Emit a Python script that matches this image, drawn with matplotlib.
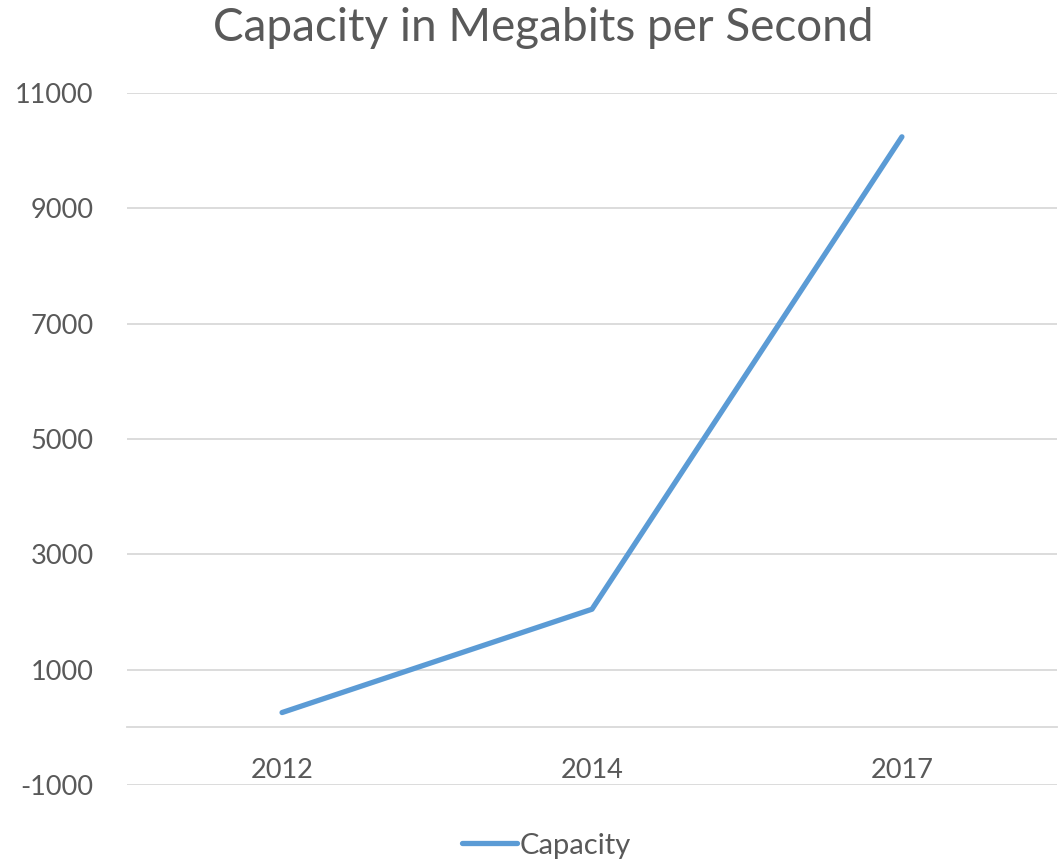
import matplotlib.pyplot as plt

years = ['2012', '2014', '2017']
capacity = [256, 2048, 10240]
y_ticks = [-1000, 1000, 3000, 5000, 7000, 9000, 11000]

plt.rcParams['font.family'] = ['Lato', 'DejaVu Sans']
plt.rcParams['axes.unicode_minus'] = False

fig = plt.figure(figsize=(10.59, 8.61), dpi=100)
ax = fig.add_axes([0.12, 0.0883, 0.878, 0.8037])

x = range(len(years))
ax.plot(x, capacity, color='#5B9BD5', linewidth=3.8, solid_capstyle='round',
        solid_joinstyle='round', label='Capacity')

ax.set_xlim(-0.5, len(years) - 0.5)
ax.set_ylim(-1000, 11000)
ax.set_yticks(y_ticks)
ax.set_xticks(list(x))
ax.set_xticklabels(years)
ax.grid(axis='y', color='#d9d9d9', linewidth=1.3)
ax.set_axisbelow(True)

for side in ['top', 'right', 'left']:
    ax.spines[side].set_visible(False)
ax.spines['bottom'].set_position(('data', 0))
ax.spines['bottom'].set_color('#d9d9d9')
ax.spines['bottom'].set_linewidth(1.3)

ax.tick_params(axis='both', length=0, labelsize=19.5, labelcolor='#595959')
ax.tick_params(axis='x', pad=22)
ax.tick_params(axis='y', pad=24)

fig.suptitle('Capacity in Megabits per Second', x=0.513, y=0.992, fontsize=33,
             color='#595959', va='top')

fig.legend(loc='center', bbox_to_anchor=(0.516, 0.018), frameon=False,
           fontsize=21, handlelength=1.9, handletextpad=0.1, labelcolor='#595959')

fig.savefig('out.png', dpi=100)
